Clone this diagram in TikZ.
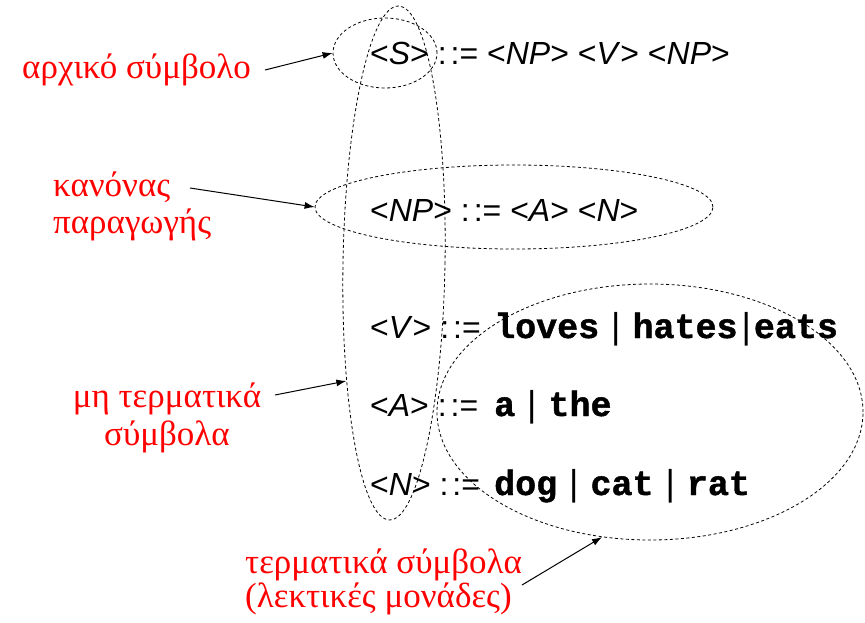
\documentclass[tikz,border=0pt]{standalone}
\usepackage{fontspec}
\setmainfont{Liberation Serif}
\setsansfont{Liberation Sans}
\setmonofont{Liberation Mono}[BoldFeatures={FakeBold=1.2}]
\usepackage{tikz}
\usetikzlibrary{arrows.meta, shapes.geometric}
\definecolor{lblred}{RGB}{255,0,0}

\newcommand{\nt}[1]{<\textit{#1}>}
\newcommand{\bnf}{:\kern4pt:=}
\newcommand{\tm}[1]{{\fontsize{35}{38}\selectfont\ttfamily\bfseries #1}}
\newcommand{\alt}{\hspace{12pt}{\fontsize{36}{38}\selectfont\sffamily|}\hspace{12pt}}
\newcommand{\altnar}{\hspace{4pt}{\fontsize{36}{38}\selectfont\sffamily|}\hspace{3pt}}

\begin{document}
\begin{tikzpicture}[
  x=1pt, y=-1pt,
  rule/.style={anchor=base west, inner sep=0pt, font=\fontsize{32}{38}\selectfont\sffamily},
  lbl/.style={inner sep=0pt, text=lblred, font=\fontsize{35}{37}\selectfont\rmfamily},
  group/.style={draw, ellipse, inner sep=0pt, dash pattern=on 3pt off 2.5pt, line width=0.8pt},
  pointer/.style={-{Latex[length=10pt,width=7pt]}, line width=1pt},
]
\useasboundingbox (0,0) rectangle (865,622);

%% Grammar rules
\node[rule] (srule)  at (370,64)  {\nt{S} \bnf{} \nt{NP} \nt{V} \nt{NP}};
\node[rule] (nprule) at (370,221) {\nt{NP} \bnf{} \nt{A} \nt{N}};
\node[rule] (vrule)  at (370,338)
  {\makebox[124pt][l]{\nt{V} \bnf}\tm{loves}\alt\tm{hates}\altnar\tm{eats}};
\node[rule] (arule)  at (370,416)
  {\makebox[124pt][l]{\nt{A} \bnf}\tm{a}\alt\tm{the}};
\node[rule] (nrule)  at (370,495)
  {\makebox[124pt][l]{\nt{N} \bnf}\tm{dog}\alt\tm{cat}\alt\tm{rat}};

%% Dashed groups
\node[group, minimum width=104pt, minimum height=70pt] (startgrp) at (385,53) {};
\node[group, minimum width=398pt, minimum height=84pt] (prodgrp) at (514,207) {};
\node[group, minimum width=102pt, minimum height=514pt, rotate=-1] (ntgrp) at (394,263) {};
\node[group, minimum width=426pt, minimum height=256pt] (termgrp) at (650,412) {};

%% Labels
\node[lbl, anchor=base west] (startlbl) at (22,78) {αρχικό σύμβολο};
\node[lbl, anchor=base west, align=left] (prodlbl) at (53,233) {κανόνας\\παραγωγής};
\node[lbl, anchor=base, align=center, font=\fontsize{35}{38}\selectfont\rmfamily]
  (ntlbl) at (167,445) {μη τερματικά\\σύμβολα};
\node[lbl, anchor=base west, align=left, font=\fontsize{35}{34}\selectfont\rmfamily]
  (termlbl) at (245,607) {τερματικά σύμβολα\\(λεκτικές μονάδες)};

\coordinate (starttail) at (265,70);
\coordinate (prodtail) at (190,188);
\coordinate (nttail) at (275,395);
\coordinate (termtail) at (522,585);

%% Arrows
\draw[pointer] (starttail) -- (startgrp.west);
\draw[pointer] (prodtail) -- (prodgrp.west);
\draw[pointer] (nttail) -- (ntgrp.249);
\draw[pointer] (termtail) -- (termgrp.249);

\end{tikzpicture}
\end{document}
